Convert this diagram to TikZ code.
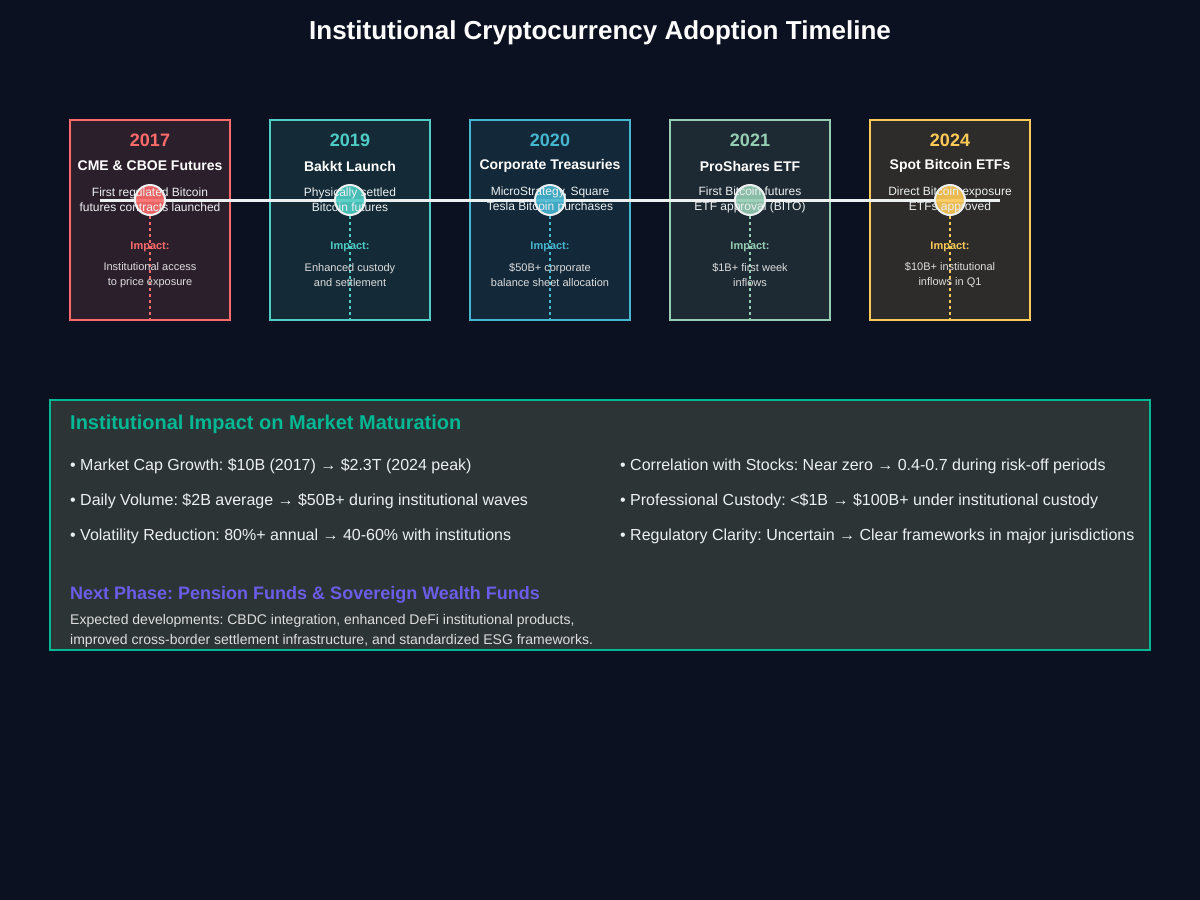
\documentclass[tikz,border=0pt]{standalone}
\usepackage{fontspec}
\setmainfont{Liberation Sans}
\usepackage{tikz}
\usetikzlibrary{positioning}
\frenchspacing
\definecolor{bgnavy}{HTML}{0B1120}
\definecolor{msred}{HTML}{FF6B6B}
\definecolor{msredfill}{HTML}{2C1F2C}
\definecolor{msteal}{HTML}{4ECDC4}
\definecolor{mstealfill}{HTML}{142A36}
\definecolor{msblue}{HTML}{45B7D1}
\definecolor{msbluefill}{HTML}{132838}
\definecolor{msmint}{HTML}{96CEB4}
\definecolor{msmintfill}{HTML}{1E2A33}
\definecolor{msgold}{HTML}{FECA57}
\definecolor{msgoldfill}{HTML}{2E2C2A}
\definecolor{panelfill}{HTML}{2D3436}
\definecolor{panelgreen}{HTML}{00B894}
\definecolor{phasepurple}{HTML}{6C5CE7}
\definecolor{softwhite}{HTML}{ECF0F1}
\definecolor{softgray}{HTML}{DDDDDD}
\tikzset{
  titlelabel/.style={font=\fontsize{26}{30}\selectfont\bfseries, text=white},
  milestonebox/.style={draw, line width=2pt, minimum width=160pt, minimum height=200pt, inner sep=0pt},
  timeline/.style={draw=softwhite, line width=3pt},
  milestonedot/.style={circle, draw=softwhite, line width=2pt, minimum size=30pt, inner sep=0pt},
  impactline/.style={line width=2pt, dash pattern=on 3pt off 3pt},
  yearlabel/.style={font=\fontsize{18}{22}\selectfont\bfseries},
  headlabel/.style={font=\fontsize{14}{17}\selectfont\bfseries, text=white},
  desclabel/.style={font=\fontsize{12}{15}\selectfont, text=softwhite, align=center, inner sep=0pt},
  impactlabel/.style={font=\fontsize{11}{13}\selectfont\bfseries},
  impacttext/.style={font=\fontsize{11}{15}\selectfont, text=softgray, align=center, inner sep=0pt},
  panelbox/.style={draw=panelgreen, fill=panelfill, line width=2pt, minimum width=1100pt, minimum height=250pt, inner sep=0pt},
  panelhead/.style={font=\fontsize{20}{24}\selectfont\bfseries, text=panelgreen, anchor=west, inner sep=0pt},
  bulletlabel/.style={font=\fontsize{16}{19}\selectfont, text=softwhite, anchor=west, inner sep=0pt},
  phasehead/.style={font=\fontsize{18}{22}\selectfont\bfseries, text=phasepurple, anchor=west, inner sep=0pt},
  phasetext/.style={font=\fontsize{14}{20}\selectfont, text=softgray, align=left, anchor=west, inner sep=0pt},
}
\begin{document}
\begin{tikzpicture}[x=1pt, y=-1pt]
  % Background and page size
  \fill[bgnavy] (0,0) rectangle (1200,900);
  \useasboundingbox (0,0) rectangle (1200,900);

  % Title
  \node[titlelabel] (title) at (600,33) {Institutional Cryptocurrency Adoption Timeline};

  % Milestone cards
  \foreach \i/\col/\fil in {0/msred/msredfill, 1/msteal/mstealfill, 2/msblue/msbluefill, 3/msmint/msmintfill, 4/msgold/msgoldfill}
  {
    \node[milestonebox, draw=\col, fill=\fil] (box\i) at (150+\i*200, 220) {};
  }

  % Timeline axis
  \coordinate (axisL) at (100,200);
  \coordinate (axisR) at (1000,200);
  \draw[timeline] (axisL) -- (axisR);

  % Dots, drop lines and card texts
  \foreach \i/\yr/\col/\head/\desc/\imp in {
    0/2017/msred/{CME \& CBOE Futures}/{First regulated Bitcoin\\futures contracts launched}/{Institutional access\\to price exposure},
    1/2019/msteal/{Bakkt Launch}/{Physically settled\\Bitcoin futures}/{Enhanced custody\\and settlement},
    2/2020/msblue/{Corporate Treasuries}/{MicroStrategy, Square\\Tesla Bitcoin purchases}/{\$50B+ corporate\\balance sheet allocation},
    3/2021/msmint/{ProShares ETF}/{First Bitcoin futures\\ETF approval (BITO)}/{\$1B+ first week\\inflows},
    4/2024/msgold/{Spot Bitcoin ETFs}/{Direct Bitcoin exposure\\ETFs approved}/{\$10B+ institutional\\inflows in Q1}}
  {
    \node[milestonedot, fill=\col, fill opacity=0.9] (dot\i) at (150+\i*200, 200) {};
    \draw[impactline, draw=\col] (dot\i.south) -- (box\i.south);
    \node[yearlabel, text=\col] (year\i) at (150+\i*200, 140) {\yr};
    \node[headlabel] (head\i) at (150+\i*200, 166) {\head};
    \node[desclabel] (desc\i) at (150+\i*200, 200) {\desc};
    \node[impactlabel, text=\col] (implabel\i) at (150+\i*200, 247) {Impact:};
    \node[impacttext] (imptext\i) at (150+\i*200, 275) {\imp};
  }

  % Market maturation panel
  \node[panelbox] (panel) at (600,525) {};
  \node[panelhead] (panelhead) at (70,424) {Institutional Impact on Market Maturation};

  \foreach \j/\txt in {
    0/{• Market Cap Growth: \$10B (2017) → \$2.3T (2024 peak)},
    1/{• Daily Volume: \$2B average → \$50B+ during institutional waves},
    2/{• Volatility Reduction: 80\%+ annual → 40-60\% with institutions}}
  {
    \node[bulletlabel] (leftpt\j) at (70, 466+\j*35) {\txt};
  }
  \foreach \j/\txt in {
    0/{• Correlation with Stocks: Near zero → 0.4-0.7 during risk-off periods},
    1/{• Professional Custody: <\$1B → \$100B+ under institutional custody},
    2/{• Regulatory Clarity: Uncertain → Clear frameworks in major jurisdictions}}
  {
    \node[bulletlabel] (rightpt\j) at (620, 466+\j*35) {\txt};
  }

  % Next phase
  \node[phasehead] (phasehead) at (70,595) {Next Phase: Pension Funds \& Sovereign Wealth Funds};
  \node[phasetext] (phasetext) at (70,631) {Expected developments: CBDC integration, enhanced DeFi institutional products,\\improved cross-border settlement infrastructure, and standardized ESG frameworks.};
\end{tikzpicture}
\end{document}
